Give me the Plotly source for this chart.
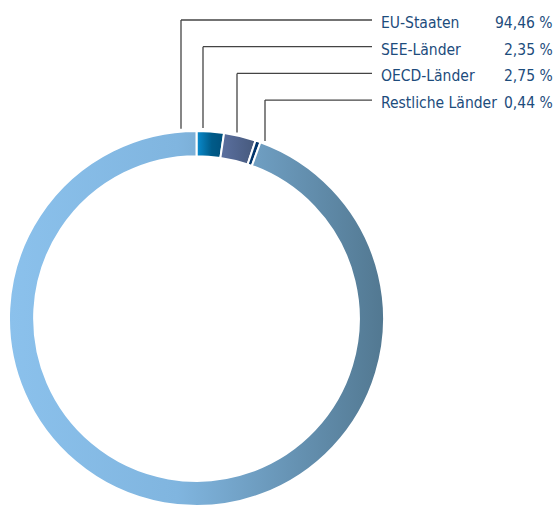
import math
import plotly.graph_objects as go

# ---- data ----
categories = ["EU-Staaten", "SEE-Länder", "OECD-Länder", "Restliche Länder"]
shares = [94.46, 2.35, 2.75, 0.44]
share_labels = ["94,46 %", "2,35 %", "2,75 %", "0,44 %"]

# ---- layout constants (pixels) ----
W, H = 559, 506
PIE_LEFT, PIE_RIGHT = 9, 384
PIE_D = PIE_RIGHT - PIE_LEFT
R = PIE_D / 2
CX = (PIE_LEFT + PIE_RIGHT) / 2
CY = H - R
TEXT_X = 379
PCT_X = 555
LINE_END_X = 372
line_x = [181, 203, 237, 265]
row_y0, row_dy = 20, 26.7

solid = {"EU-Staaten": "#78acd4", "SEE-Länder": "#006a9e",
         "OECD-Länder": "#4f6389", "Restliche Länder": "#00386e"}
TEXT_COLOR = "#1d4c7c"
FONT = "DejaVu Sans Condensed, Liberation Sans Narrow, Arial Narrow, sans-serif"

# slices drawn clockwise from 12 o'clock: SEE, OECD, Restliche, EU
draw_order = [1, 2, 3, 0]


def px(x):
    return x / W


def py(y):
    return 1 - y / H


fig = go.Figure(go.Pie(
    labels=[categories[i] for i in draw_order],
    values=[shares[i] for i in draw_order],
    sort=False,
    direction="clockwise",
    rotation=0,
    hole=0.866,
    textinfo="none",
    hoverinfo="label+percent",
    marker=dict(colors=[solid[categories[i]] for i in draw_order],
                line=dict(color="white", width=2)),
    domain=dict(x=[px(PIE_LEFT), px(PIE_RIGHT)], y=[0, PIE_D / H]),
    showlegend=False,
))

shapes = []
annotations = []
for k, cat in enumerate(categories):
    yl = row_y0 + row_dy * k
    xv = line_x[k]
    dx = xv - CX
    y_ring = CY - math.sqrt(max(R * R - dx * dx, 0)) - 3
    shapes.append(dict(type="line", xref="paper", yref="paper",
                       x0=px(xv), x1=px(LINE_END_X), y0=py(yl), y1=py(yl),
                       line=dict(color="#444444", width=1.3)))
    shapes.append(dict(type="line", xref="paper", yref="paper",
                       x0=px(xv), x1=px(xv), y0=py(yl), y1=py(y_ring),
                       line=dict(color="#444444", width=1.3)))
    ty = yl + 3
    annotations.append(dict(text=cat, xref="paper", yref="paper",
                            x=px(TEXT_X), y=py(ty), xanchor="left", yanchor="middle",
                            showarrow=False,
                            font=dict(family=FONT, size=15.5, color=TEXT_COLOR)))
    annotations.append(dict(text=share_labels[k], xref="paper", yref="paper",
                            x=px(PCT_X), y=py(ty), xanchor="right", yanchor="middle",
                            showarrow=False,
                            font=dict(family=FONT, size=15.5, color=TEXT_COLOR)))

fig.update_layout(
    width=W, height=H,
    margin=dict(l=0, r=0, t=0, b=0),
    paper_bgcolor="white", plot_bgcolor="white",
    shapes=shapes, annotations=annotations,
)

# horizontal colour gradients on the ring slices (slice order = draw_order)
post = r"""
var gd = document.getElementById('{plot_id}');
var ns = 'http://www.w3.org/2000/svg';
var svg = gd.querySelector('svg.main-svg');
var defs = svg.querySelector('defs');
if (!defs) { defs = document.createElementNS(ns, 'defs'); svg.insertBefore(defs, svg.firstChild); }
var grads = [
  [[0, '#0a8dd0'], [0.55, '#005b89'], [1, '#00507b']],
  [[0, '#5b70a0'], [1, '#46597c']],
  [[0, '#00346b'], [1, '#00346b']],
  [[0, '#8bc1ec'], [0.45, '#80b5df'], [1, '#527891']]
];
grads.forEach(function(st, i) {
  var g = document.createElementNS(ns, 'linearGradient');
  g.setAttribute('id', 'ringgrad' + i);
  g.setAttribute('x1', '0'); g.setAttribute('y1', '0');
  g.setAttribute('x2', '1'); g.setAttribute('y2', '0');
  st.forEach(function(s) {
    var stop = document.createElementNS(ns, 'stop');
    stop.setAttribute('offset', s[0]);
    stop.setAttribute('stop-color', s[1]);
    g.appendChild(stop);
  });
  defs.appendChild(g);
});
var paths = gd.querySelectorAll('g.slice path.surface');
paths.forEach(function(p, i) { if (i < grads.length) p.style.fill = 'url(#ringgrad' + i + ')'; });
"""

fig.write_html("out.html", post_script=post)
